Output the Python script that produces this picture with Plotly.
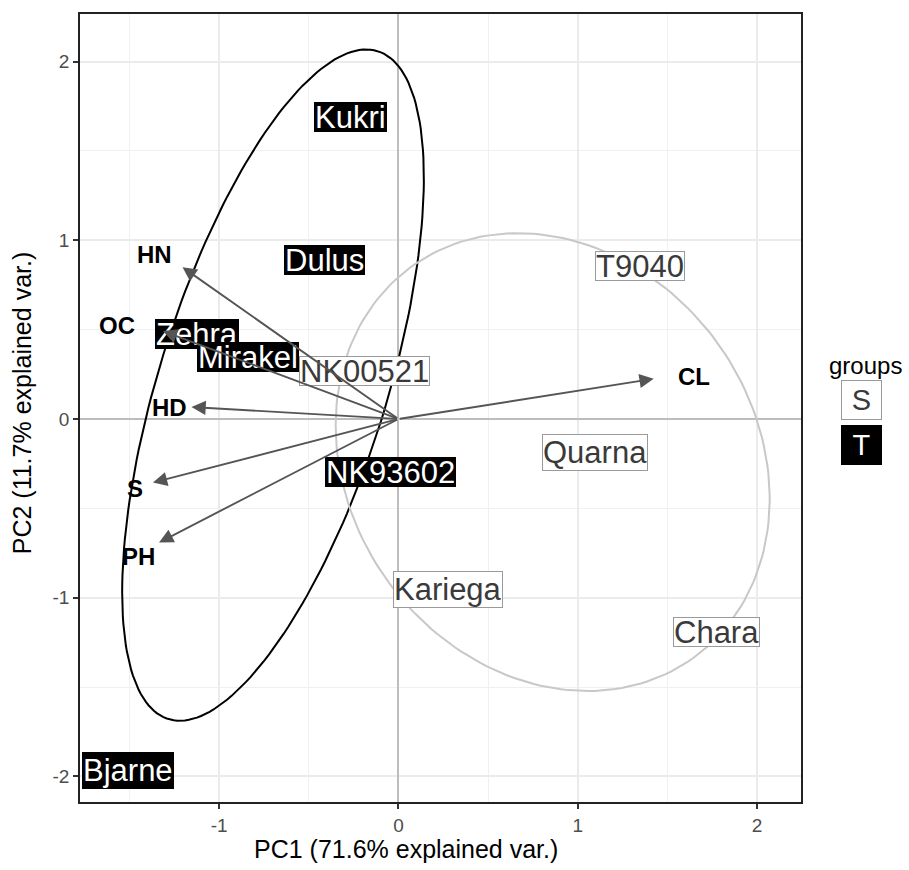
import numpy as np
import plotly.graph_objects as go

# ---- data ----
samples = ["Kukri", "Dulus", "Zehra", "Mirakel", "NK93602", "Bjarne",
           "NK00521", "T9040", "Quarna", "Kariega", "Chara"]
groups = ["T", "T", "T", "T", "T", "T", "S", "S", "S", "S", "S"]
pc1 = [-0.265, -0.413, -1.123, -0.841, -0.047, -1.511,
       -0.190, 1.346, 1.098, 0.274, 1.774]
pc2 = [1.687, 0.891, 0.478, 0.346, -0.296, -1.969,
       0.268, 0.858, -0.187, -0.955, -1.190]

variables = ["HN", "OC", "HD", "S", "PH", "CL"]
load1 = [-1.205, -1.315, -1.155, -1.370, -1.336, 1.424]
load2 = [0.849, 0.492, 0.067, -0.356, -0.691, 0.225]
varlab1 = [-1.360, -1.573, -1.277, -1.469, -1.450, 1.648]
varlab2 = [0.922, 0.525, 0.064, -0.388, -0.771, 0.237]

group_levels = ["S", "T"]
x_title = "PC1 (71.6% explained var.)"
y_title = "PC2 (11.7% explained var.)"
x_ticks = [-1, 0, 1, 2]
y_ticks = [-2, -1, 0, 1, 2]
ellipse_prob = 0.68

FONT = "Liberation Sans, Arial, sans-serif"
style = {
    "S": dict(line="#C8C8C8", text="#3A3A3A", bg="white", border="#9A9A9A"),
    "T": dict(line="#000000", text="white", bg="black", border="black"),
}

fig = go.Figure()

# ---- normal-probability ellipses per group (ggbiplot method) ----
ed = np.sqrt(-2.0 * np.log(1.0 - ellipse_prob))  # sqrt(qchisq(p, 2))
theta = np.linspace(-np.pi, np.pi, 200)
circle = np.column_stack([np.cos(theta), np.sin(theta)])
x_arr = np.array(pc1)
y_arr = np.array(pc2)
g_arr = np.array(groups)
for g in ["T", "S"]:
    m = g_arr == g
    pts = np.column_stack([x_arr[m], y_arr[m]])
    mu = pts.mean(axis=0)
    sigma = np.cov(pts.T)
    L = np.linalg.cholesky(sigma)
    ell = ed * circle @ L.T + mu
    fig.add_trace(go.Scatter(x=ell[:, 0], y=ell[:, 1], mode="lines",
                             line=dict(color=style[g]["line"], width=2),
                             hoverinfo="skip", showlegend=False))

annotations = []
# ---- sample labels ----
LABEL_SIZE = 31
for name, g, x, y in zip(samples, groups, pc1, pc2):
    s = style[g]
    has_desc = any(c in "gjpqyQ" for c in name)
    annotations.append(dict(
        x=x, y=y, xref="x", yref="y", text=name, showarrow=False,
        font=dict(family=FONT, size=LABEL_SIZE, color=s["text"]),
        bgcolor=s["bg"], bordercolor=s["border"], borderwidth=1, borderpad=0,
        height=35 if has_desc else 28, valign="middle",
        xanchor="center", yanchor="middle"))

# ---- loading arrows ----
for x, y in zip(load1, load2):
    annotations.append(dict(
        x=x, y=y, ax=0, ay=0, xref="x", yref="y", axref="x", ayref="y",
        text="", showarrow=True, arrowhead=2, arrowsize=1.5, arrowwidth=1.9,
        arrowcolor="#555555", standoff=0, startstandoff=0))

# ---- variable names ----
for name, x, y in zip(variables, varlab1, varlab2):
    annotations.append(dict(
        x=x, y=y, xref="x", yref="y", text="<b>%s</b>" % name, showarrow=False,
        font=dict(family=FONT, size=24, color="black"),
        xanchor="center", yanchor="middle"))

# ---- axis titles ----
annotations.append(dict(x=0.452, y=-0.06, xref="paper", yref="paper",
                        text=x_title, showarrow=False,
                        font=dict(family=FONT, size=25, color="black"),
                        xanchor="center", yanchor="middle"))
annotations.append(dict(x=-0.0805, y=0.506, xref="paper", yref="paper",
                        text=y_title, showarrow=False, textangle=-90,
                        font=dict(family=FONT, size=25, color="black"),
                        xanchor="center", yanchor="middle"))

# ---- legend ----
annotations.append(dict(x=1.0888, y=0.5544, xref="paper", yref="paper",
                        text="groups", showarrow=False,
                        font=dict(family=FONT, size=24, color="black"),
                        xanchor="center", yanchor="middle"))
for i, g in enumerate(group_levels):
    s = style[g]
    annotations.append(dict(
        x=1.0836, y=0.5101 - i * 0.0570, xref="paper", yref="paper",
        text=g, showarrow=False, width=39, height=38,
        font=dict(family=FONT, size=29, color=s["text"]),
        bgcolor=s["bg"], bordercolor=s["border"], borderwidth=1, borderpad=0,
        xanchor="center", yanchor="middle", align="center", valign="middle"))

axis_common = dict(
    showgrid=True, gridcolor="#EBEBEB", gridwidth=1.5,
    zeroline=True, zerolinecolor="#BDBDBD", zerolinewidth=2,
    showline=True, mirror=True, linecolor="#222222", linewidth=1.5,
    ticks="outside", ticklen=5, tickwidth=1.5, tickcolor="#333333",
    tickfont=dict(family=FONT, size=19, color="#4D4D4D"),
    minor=dict(dtick=0.5, showgrid=True, gridcolor="#F0F0F0", gridwidth=1),
)

fig.update_layout(
    width=909, height=870,
    margin=dict(l=80, r=108, t=12, b=68),
    paper_bgcolor="white", plot_bgcolor="white",
    showlegend=False,
    annotations=annotations,
    xaxis=dict(range=[-1.777, 2.246], tickvals=x_ticks,
               ticktext=[str(v) for v in x_ticks], **axis_common),
    yaxis=dict(range=[-2.143, 2.266], tickvals=y_ticks,
               ticktext=[str(v) for v in y_ticks], **axis_common),
    font=dict(family=FONT),
)

fig.write_html("out.html")
